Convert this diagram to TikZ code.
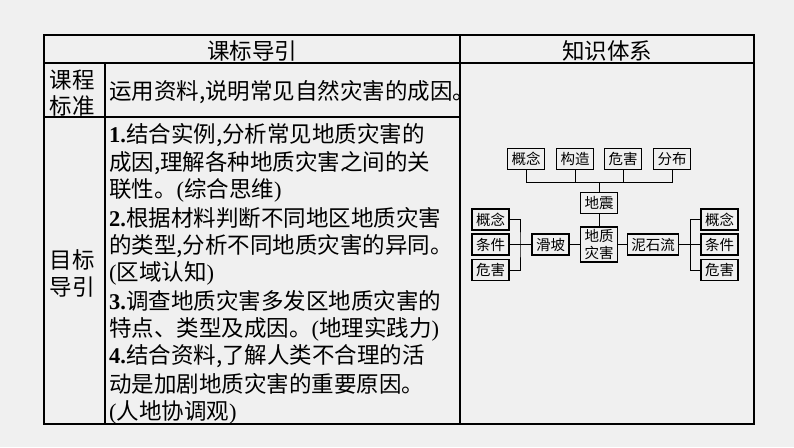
\documentclass[tikz,border=0pt]{standalone}
\usepackage{fontspec}
\newfontfamily\cjk{Noto Sans CJK SC}
\newfontfamily\ser{Liberation Serif}
\definecolor{bgc}{HTML}{F0F0F0}
\newcommand{\numb}[1]{{\ser\bfseries #1.}}
\newcommand{\paren}[1]{{\ser(}#1{\ser)}}
\begin{document}
\begin{tikzpicture}[x=1pt,y=-1pt,
  tbl/.style={line width=1.3pt, draw=black},
  cell/.style={font=\cjk\fontsize{22.5}{26}\selectfont, inner sep=0pt},
  kb/.style={draw=black, line width=1.2pt, font=\cjk\fontsize{14.5}{16.5}\selectfont,
    inner xsep=4pt, inner ysep=2.5pt, minimum height=21pt},
  conn/.style={draw=black, line width=0.9pt}]
\fill[bgc] (0,0) rectangle (794,447);
\useasboundingbox (0,0) rectangle (794,447);
% table
\draw[tbl] (44,35) rectangle (754,424);
\draw[tbl] (44,63) -- (754,63);
\draw[tbl] (460,35) -- (460,424);
\draw[tbl] (105,63) -- (105,424);
\draw[tbl] (44,117) -- (460,117);
% headers
\node[cell] (h1) at (252,51) {课标导引};
\node[cell] (h2) at (607,51) {知识体系};
\node[cell, align=center] (kcbz) at (72,93) {课程\\标准};
\node[cell, anchor=west] (kcbzt) at (109,92) {运用资料,说明常见自然灾害的成因。};
\node[cell, align=center, font=\cjk\fontsize{22.5}{27}\selectfont] (mbdy) at (72,273.5) {目标\\导引};
% objectives
\foreach \t [count=\i from 0] in {
  {\numb{1}结合实例,分析常见地质灾害的},
  {成因,理解各种地质灾害之间的关},
  {联性。\paren{综合思维}},
  {\numb{2}根据材料判断不同地区地质灾害},
  {的类型,分析不同地质灾害的异同。},
  {\paren{区域认知}},
  {\numb{3}调查地质灾害多发区地质灾害的},
  {特点、类型及成因。\paren{地理实践力}},
  {\numb{4}结合资料,了解人类不合理的活},
  {动是加剧地质灾害的重要原因。},
  {\paren{人地协调观}}}
  \node[cell, anchor=west] (line\i) at (109,{135+27.7*\i}) {\t};
% knowledge system
\node[kb] (gn) at (526,159) {概念};
\node[kb] (gz) at (575,159) {构造};
\node[kb] (wh) at (623,159) {危害};
\node[kb] (fb) at (672,159) {分布};
\node[kb] (dz) at (599,203) {地震};
\node[kb, align=center] (dzzh) at (599,244.5) {地质\\灾害};
\node[kb] (hp) at (550.5,244.5) {滑坡};
\node[kb] (nsl) at (653,244.5) {泥石流};
\node[kb] (lgn) at (490.5,219.5) {概念};
\node[kb] (ltj) at (490.5,244.5) {条件};
\node[kb] (lwh) at (490.5,270) {危害};
\node[kb] (rgn) at (719.5,219.5) {概念};
\node[kb] (rtj) at (719.5,244.5) {条件};
\node[kb] (rwh) at (719.5,270) {危害};
\coordinate (bus) at (599,182);
\coordinate (lb) at (520,244.5);
\coordinate (rb) at (690,244.5);
\draw[conn] (gn.south) |- (fb.south |- bus) -- (fb.south);
\draw[conn] (gz.south) -- (gz.south |- bus);
\draw[conn] (wh.south) -- (wh.south |- bus);
\draw[conn] (dz.north) -- (dz.north |- bus);
\draw[conn] (dz.south) -- (dzzh.north);
\draw[conn] (hp.east) -- (dzzh.west);
\draw[conn] (dzzh.east) -- (nsl.west);
\draw[conn] (lgn.east) -| (lb) |- (lwh.east);
\draw[conn] (ltj.east) -- (hp.west);
\draw[conn] (rgn.west) -| (rb) |- (rwh.west);
\draw[conn] (nsl.east) -- (rtj.west);
\end{tikzpicture}
\end{document}
